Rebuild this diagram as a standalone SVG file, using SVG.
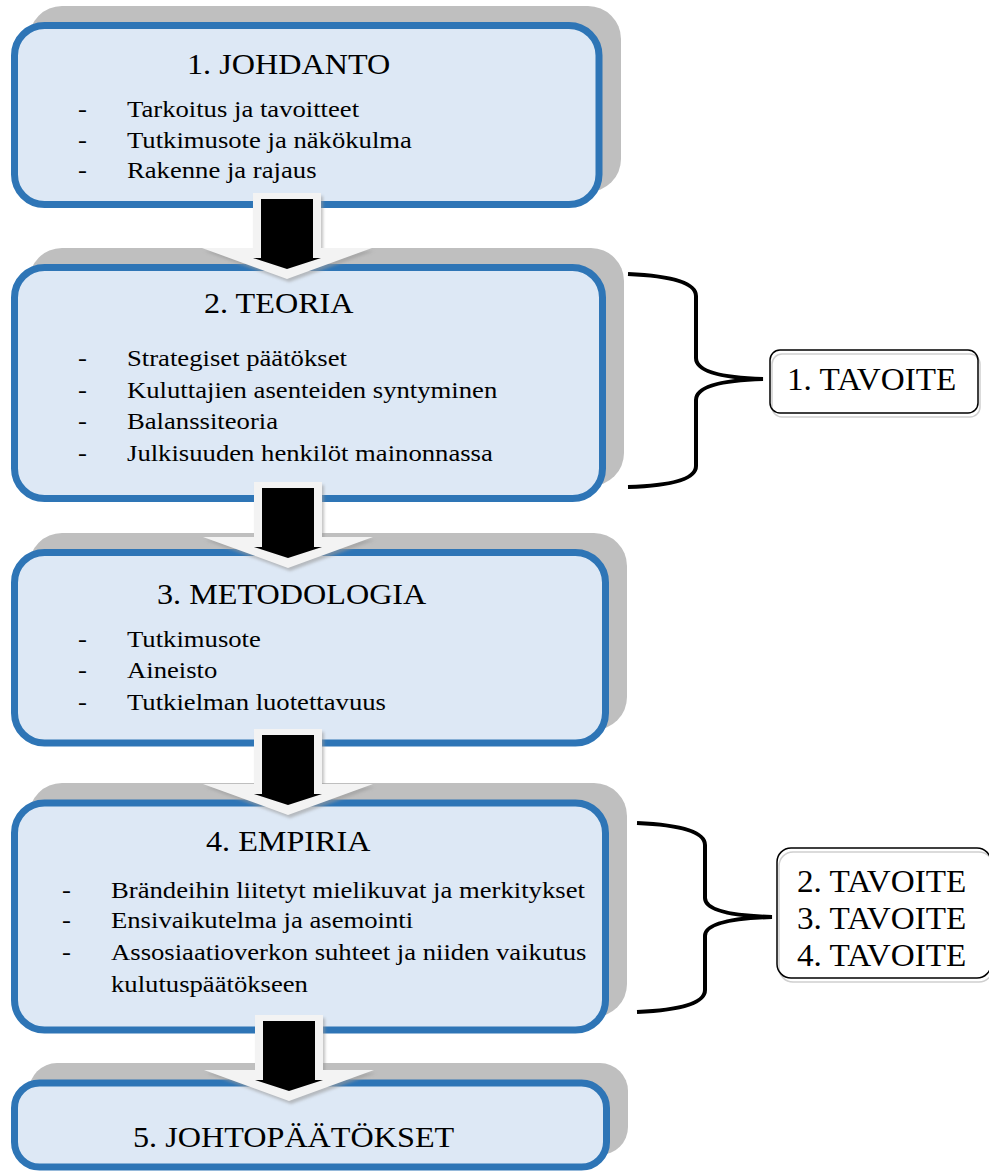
<svg xmlns="http://www.w3.org/2000/svg" width="989" height="1171" viewBox="0 0 989 1171" font-family="'Liberation Serif', 'Times New Roman', serif">
<style>
.shadow{fill:#bfbfbf}
.box{fill:#dde8f5;stroke:#2e75b6;stroke-width:7}
.t{font-family:"Liberation Serif","Times New Roman",serif;fill:#000}
.title{font-size:29px}
.item{font-size:23px}
.goal{font-size:31px}
.brace{fill:none;stroke:#000;stroke-width:4}
.gbox{fill:none;stroke:#000;stroke-width:1.5}
.gin{fill:#fff;stroke:#cfcfcf;stroke-width:1.5}
</style>
<defs>
<filter id="blur" x="-20%" y="-20%" width="140%" height="140%"><feGaussianBlur stdDeviation="1.5"/></filter>
<g id="arrow">
<path d="M-34 0H34V55H85L0 86L-85 55H-34Z" fill="#9a9a9a" opacity="0.6" transform="translate(2 3)" filter="url(#blur)"/>
<path d="M-34 0H34V55H85L0 86L-85 55H-34Z" fill="#f3f3f3"/>
<path d="M-26 6H26V65H34L0 76L-34 65H-26Z" fill="#000"/>
</g>
</defs>

<g id="node1">
<rect class="shadow" x="29" y="6" width="592" height="186" rx="33"/>
<rect class="box" x="14.5" y="25.5" width="584.5" height="179" rx="30"/>
<text class="t title" transform="translate(187 74) scale(1.11 1)">1. JOHDANTO</text>
<text class="t item" transform="translate(78 117) scale(1.16 1)">-</text>
<text class="t item" transform="translate(127 117) scale(1.16 1)">Tarkoitus ja tavoitteet</text>
<text class="t item" transform="translate(78 148) scale(1.16 1)">-</text>
<text class="t item" transform="translate(127 148) scale(1.16 1)">Tutkimusote ja näkökulma</text>
<text class="t item" transform="translate(78 178) scale(1.16 1)">-</text>
<text class="t item" transform="translate(127 178) scale(1.16 1)">Rakenne ja rajaus</text>
</g>

<g id="node2">
<rect class="shadow" x="29" y="248" width="595" height="238" rx="33"/>
<rect class="box" x="14.5" y="267.5" width="588" height="231" rx="30"/>
<text class="t title" transform="translate(204 313) scale(1.11 1)">2. TEORIA</text>
<text class="t item" transform="translate(78 366) scale(1.16 1)">-</text>
<text class="t item" transform="translate(127 366) scale(1.16 1)">Strategiset päätökset</text>
<text class="t item" transform="translate(78 398) scale(1.16 1)">-</text>
<text class="t item" transform="translate(127 398) scale(1.16 1)">Kuluttajien asenteiden syntyminen</text>
<text class="t item" transform="translate(78 429) scale(1.16 1)">-</text>
<text class="t item" transform="translate(127 429) scale(1.16 1)">Balanssiteoria</text>
<text class="t item" transform="translate(78 461) scale(1.16 1)">-</text>
<text class="t item" transform="translate(127 461) scale(1.16 1)">Julkisuuden henkilöt mainonnassa</text>
</g>

<g id="node3">
<rect class="shadow" x="29" y="533" width="598" height="197" rx="33"/>
<rect class="box" x="14.5" y="552.5" width="591" height="190.5" rx="30"/>
<text class="t title" transform="translate(157 604) scale(1.11 1)">3. METODOLOGIA</text>
<text class="t item" transform="translate(78 647) scale(1.16 1)">-</text>
<text class="t item" transform="translate(127 647) scale(1.16 1)">Tutkimusote</text>
<text class="t item" transform="translate(78 678) scale(1.16 1)">-</text>
<text class="t item" transform="translate(127 678) scale(1.16 1)">Aineisto</text>
<text class="t item" transform="translate(78 710) scale(1.16 1)">-</text>
<text class="t item" transform="translate(127 710) scale(1.16 1)">Tutkielman luotettavuus</text>
</g>

<g id="node4">
<rect class="shadow" x="29" y="783" width="598" height="234" rx="33"/>
<rect class="box" x="14.5" y="803" width="591" height="227" rx="30"/>
<text class="t title" transform="translate(206 851) scale(1.11 1)">4. EMPIRIA</text>
<text class="t item" transform="translate(62 898) scale(1.16 1)">-</text>
<text class="t item" transform="translate(111 898) scale(1.16 1)">Brändeihin liitetyt mielikuvat ja merkitykset</text>
<text class="t item" transform="translate(62 928) scale(1.16 1)">-</text>
<text class="t item" transform="translate(111 928) scale(1.16 1)">Ensivaikutelma ja asemointi</text>
<text class="t item" transform="translate(62 960) scale(1.16 1)">-</text>
<text class="t item" transform="translate(111 960) scale(1.16 1)">Assosiaatioverkon suhteet ja niiden vaikutus</text>
<text class="t item" transform="translate(111 992) scale(1.16 1)">kulutuspäätökseen</text>
</g>

<g id="node5">
<rect class="shadow" x="29" y="1063" width="599" height="92" rx="28"/>
<rect class="box" x="14.5" y="1083" width="592" height="84" rx="25"/>
<text class="t title" transform="translate(133 1147) scale(1.11 1)">5. JOHTOPÄÄTÖKSET</text>
</g>

<g id="goal1">
<rect class="gin" x="772" y="354" width="208" height="63" rx="10"/>
<rect class="gbox" x="770" y="350" width="208" height="63" rx="10"/>
<text class="t goal" transform="translate(787 390) scale(1.07 1)">1. TAVOITE</text>
</g>

<g id="goal2">
<rect class="gin" x="779" y="852" width="214" height="130" rx="14"/>
<rect class="gbox" x="777" y="848" width="214" height="130" rx="14"/>
<text class="t goal" transform="translate(797 892) scale(1.07 1)">2. TAVOITE</text>
<text class="t goal" transform="translate(797 929) scale(1.07 1)">3. TAVOITE</text>
<text class="t goal" transform="translate(797 966) scale(1.07 1)">4. TAVOITE</text>
</g>

<g id="connectors">
<use href="#arrow" transform="translate(287 193)"/>
<use href="#arrow" transform="translate(288 482)"/>
<use href="#arrow" transform="translate(288 729)"/>
<use href="#arrow" transform="translate(289 1015)"/>
<path class="brace" d="M628 274Q696 277 696 296V358Q696 377 763 379Q696 381 696 400V466Q696 485 628 487"/>
<path class="brace" d="M637 823Q705 826 705 845V898Q705 915 772 917Q705 919 705 936V990Q705 1009 637 1012"/>
</g>
</svg>
